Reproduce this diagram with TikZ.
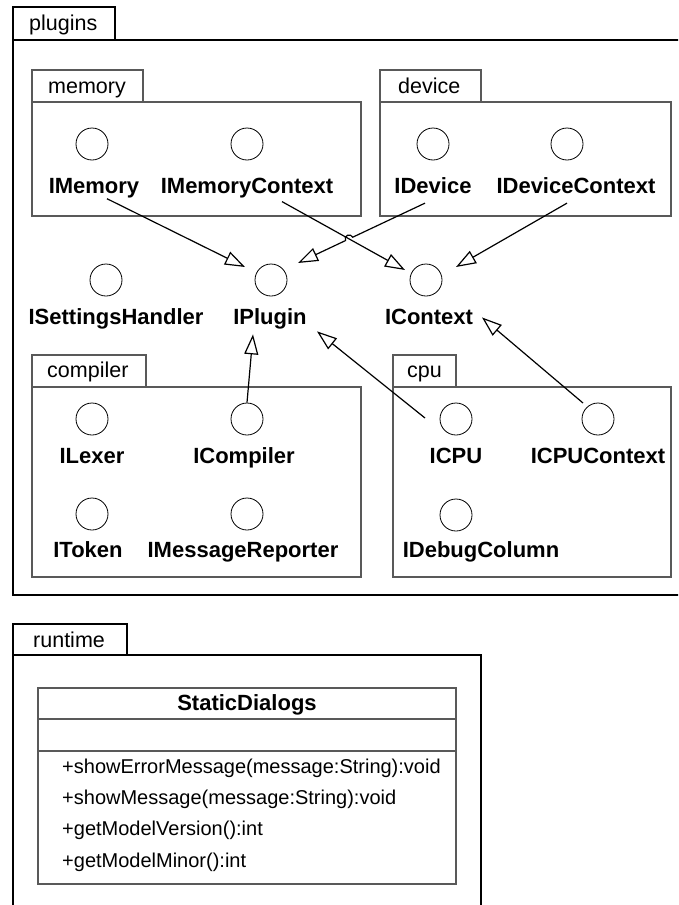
\documentclass[tikz,border=0pt]{standalone}
\usepackage{fontspec}
\setmainfont{Liberation Sans}
\usetikzlibrary{arrows.meta,intersections,calc}

\begin{document}
\begin{tikzpicture}[x=1pt, y=-1pt,
    >={Triangle[open,length=20pt,width=14pt]},
    outer/.style={draw=black, line width=1.6pt},
    inner/.style={draw=black!65, line width=1.2pt},
    iface/.style={circle, draw, line width=0.8pt, minimum size=32pt, inner sep=0pt},
    ilabel/.style={font=\fontsize{22}{26}\selectfont\bfseries, anchor=base, inner sep=0pt},
    tablabel/.style={font=\fontsize{21.5}{25}\selectfont, anchor=base west, inner sep=0pt},
    method/.style={font=\fontsize{20}{24}\selectfont, anchor=base west, inner sep=0pt},
    realize/.style={->, line width=1.2pt}]
    \clip (0,0) rectangle (678,905);

    % packages
    \draw[outer] (13,7) rectangle (115,40);
    \draw[outer] (13,40) rectangle (700,595);
    \node[tablabel] (pluginsT) at (29,30) {plugins};
    \draw[inner] (32,70) rectangle (143,102);
    \draw[inner] (32,102) rectangle (361,216);
    \node[tablabel] (memoryT) at (48,93) {memory};
    \draw[inner] (380,70) rectangle (481,102);
    \draw[inner] (380,102) rectangle (671,216);
    \node[tablabel] (deviceT) at (398,93) {device};
    \draw[inner] (32,355) rectangle (146,387);
    \draw[inner] (32,387) rectangle (361,577);
    \node[tablabel] (compilerT) at (47,377) {compiler};
    \draw[inner] (393,355) rectangle (456,387);
    \draw[inner] (393,387) rectangle (671,577);
    \node[tablabel] (cpuT) at (407,377) {cpu};
    \draw[outer] (13,624) rectangle (127,655);
    \draw[outer] (13,655) rectangle (481,950);
    \node[tablabel] (runtimeT) at (33,647) {runtime};

    % interfaces
    \node[iface] (memC) at (92,144) {};
    \node[ilabel] (memL) at (94,193) {IMemory};
    \node[iface] (memcC) at (247,144) {};
    \node[ilabel] (memcL) at (247,193) {IMemoryContext};
    \node[iface] (devC) at (433,144) {};
    \node[ilabel] (devL) at (433,193) {IDevice};
    \node[iface] (devcC) at (567,144) {};
    \node[ilabel] (devcL) at (576,193) {IDeviceContext};
    \node[iface] (setC) at (106,280) {};
    \node[ilabel] (setL) at (116,324) {ISettingsHandler};
    \node[iface] (plugC) at (271,280) {};
    \node[ilabel] (plugL) at (270,324) {IPlugin};
    \node[iface] (ctxC) at (426,280) {};
    \node[ilabel] (ctxL) at (429,324) {IContext};
    \node[iface] (lexC) at (92,419) {};
    \node[ilabel] (lexL) at (92,463) {ILexer};
    \node[iface] (compC) at (247,419) {};
    \node[ilabel] (compL) at (244,463) {ICompiler};
    \node[iface] (tokC) at (92,514) {};
    \node[ilabel] (tokL) at (88,557) {IToken};
    \node[iface] (msgC) at (247,514) {};
    \node[ilabel] (msgL) at (243,557) {IMessageReporter};
    \node[iface] (cpuC) at (456,419) {};
    \node[ilabel] (cpuL) at (456,463) {ICPU};
    \node[iface] (cpucC) at (598,419) {};
    \node[ilabel] (cpucL) at (598,463) {ICPUContext};
    \node[iface] (dbgC) at (456,515) {};
    \node[ilabel] (dbgL) at (481,557) {IDebugColumn};

    % realizations
    \draw[realize] ($(memL)+(13,11)$) -- ($(plugC)+(-26,-13)$);
    \draw[realize, name path=mcline] ($(memcL)+(35,14)$) -- ($(ctxC)+(-21,-10)$);
    \path[name path=dvline] ($(devL)+(-8,18)$) -- ($(plugC)+(27,-17)$);
    \draw[realize, name intersections={of=mcline and dvline, by=X}]
        ($(devL)+(-8,18)$) -- ($(X)!4pt!($(devL)+(-8,18)$)$)
        arc[start angle=25, end angle=205, radius=4pt]
        -- ($(plugC)+(27,-17)$);
    \draw[realize] ($(devcL)+(-9,18)$) -- ($(ctxC)+(30,-13)$);
    \draw[realize] (compC.north) -- ($(plugL)+(-17,16)$);
    \draw[realize] ($(cpuC)+(-31,-1)$) -- ($(plugL)+(47,13)$);
    \draw[realize] ($(cpucC)+(-15,-16)$) -- ($(ctxL)+(53,1)$);

    % class
    \draw[inner] (38,688) rectangle (456,884);
    \draw[inner] (38,719) -- (456,719);
    \draw[inner] (38,751) -- (456,751);
    \node[ilabel] (dlgT) at (247,710) {StaticDialogs};
    \node[method] (m1) at (62,773) {+showErrorMessage(message:String):void};
    \node[method] (m2) at (62,804) {+showMessage(message:String):void};
    \node[method] (m3) at (62,835) {+getModelVersion():int};
    \node[method] (m4) at (62,867) {+getModelMinor():int};
\end{tikzpicture}
\end{document}
